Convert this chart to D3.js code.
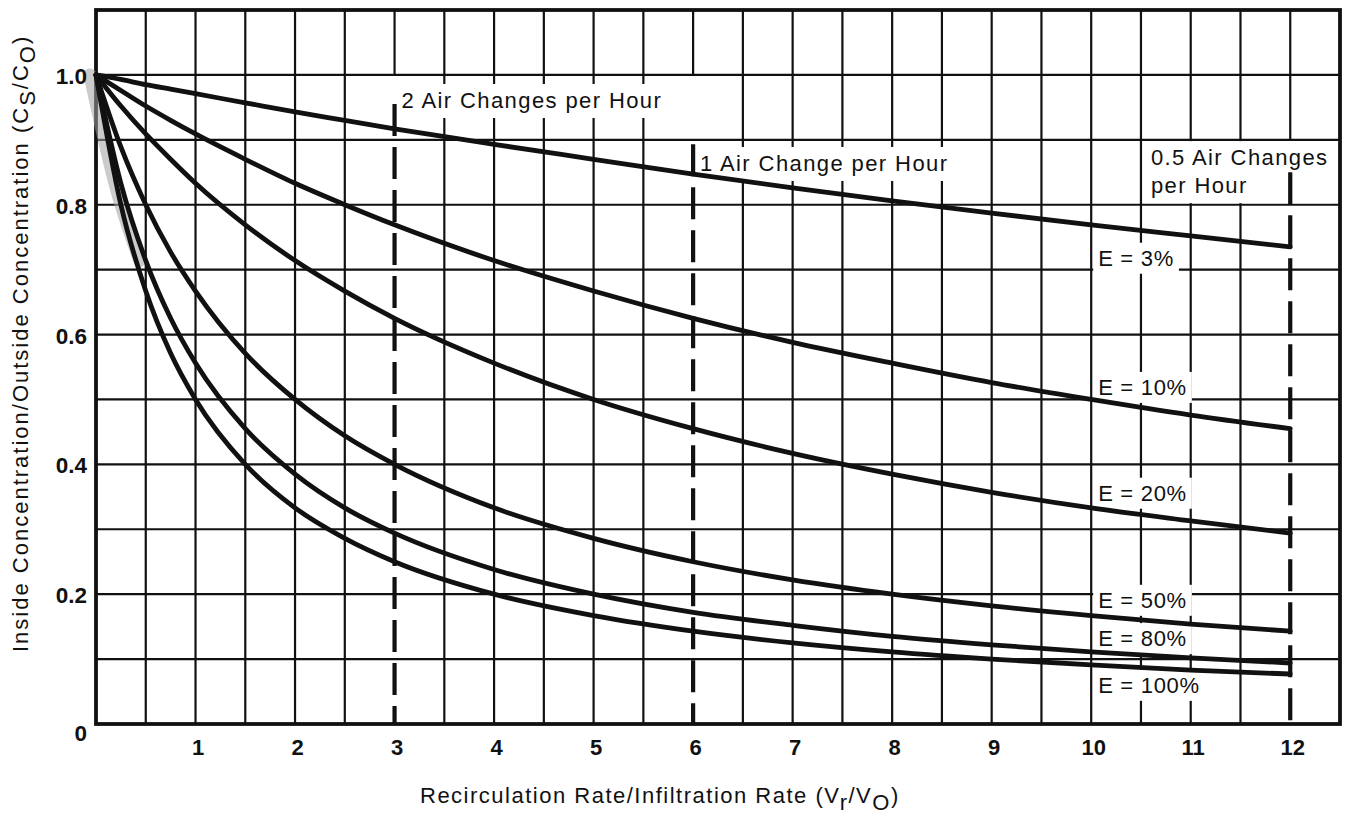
<!DOCTYPE html>
<html>
<head>
<meta charset="utf-8">
<script src="https://cdn.jsdelivr.net/npm/d3@7"></script>
<style>
  body { margin: 0; background: #fff; }
  svg text { font-family: "Liberation Sans", Arial, Helvetica, sans-serif; fill: #111; }
</style>
</head>
<body>
<svg id="chart" width="1348" height="821"></svg>
<script>
// values (Cs/Co against Vr/Vo)
const xs   = [0, 0.25, 0.5, 0.75, 1, 1.5, 2, 2.5, 3, 4, 5, 6, 7, 8, 9, 10, 11, 12];
const e3   = [1, 0.993, 0.985, 0.978, 0.971, 0.957, 0.943, 0.93, 0.917, 0.893, 0.87, 0.847, 0.826, 0.806, 0.787, 0.769, 0.752, 0.735];
const e10  = [1, 0.976, 0.952, 0.93, 0.909, 0.87, 0.833, 0.8, 0.769, 0.714, 0.667, 0.625, 0.588, 0.556, 0.526, 0.5, 0.476, 0.455];
const e20  = [1, 0.952, 0.909, 0.87, 0.833, 0.769, 0.714, 0.667, 0.625, 0.556, 0.5, 0.455, 0.417, 0.385, 0.357, 0.333, 0.313, 0.294];
const e50  = [1, 0.889, 0.8, 0.727, 0.667, 0.571, 0.5, 0.444, 0.4, 0.333, 0.286, 0.25, 0.222, 0.2, 0.182, 0.167, 0.154, 0.143];
const e80  = [1, 0.833, 0.714, 0.625, 0.556, 0.455, 0.385, 0.333, 0.294, 0.238, 0.2, 0.172, 0.152, 0.135, 0.122, 0.111, 0.102, 0.094];
const e100 = [1, 0.8, 0.667, 0.571, 0.5, 0.4, 0.333, 0.286, 0.25, 0.2, 0.167, 0.143, 0.125, 0.111, 0.1, 0.091, 0.083, 0.077];

const seriesNames = ["E = 3%", "E = 10%", "E = 20%", "E = 50%", "E = 80%", "E = 100%"];
const seriesValues = [e3, e10, e20, e50, e80, e100];

const xTicks = [1, 2, 3, 4, 5, 6, 7, 8, 9, 10, 11, 12];
const yTicks = [0, 0.2, 0.4, 0.6, 0.8, 1.0];
const yTickLabels = ["0", "0.2", "0.4", "0.6", "0.8", "1.0"];

const airChangeX = [3, 6, 12];
const airChangeLabels = [["2 Air Changes per Hour"], ["1 Air Change per Hour"], ["0.5 Air Changes", "per Hour"]];

// layout
const xMax = 12.5, yMax = 1.1;
const x = d3.scaleLinear().domain([0, xMax]).range([96, 1340]);
const y = d3.scaleLinear().domain([0, yMax]).range([724, 10]);

const ink = "#111";
const svg = d3.select("#chart");

const gridG  = svg.append("g");
const boxG   = svg.append("g");
const smudgeG = svg.append("g");
const curveG = svg.append("g");
const dashG  = svg.append("g");
const textG  = svg.append("g");

// where the solid grid line stops above each dashed line, and where the dash starts
const solidStop = [1.0, 1.0, 0.9];
const dashTop   = [0.955, 0.893, 0.85];

// vertical grid every 0.5
d3.range(0.5, xMax, 0.5).forEach(v => {
  const i = airChangeX.indexOf(v);
  gridG.append("line")
    .attr("x1", x(v)).attr("x2", x(v))
    .attr("y1", y(yMax)).attr("y2", i < 0 ? y(0) : y(solidStop[i]))
    .attr("stroke", ink).attr("stroke-width", 2.2);
});
// horizontal grid every 0.1
d3.range(1, 11).map(d => d / 10).forEach(v => {
  gridG.append("line")
    .attr("x1", x(0)).attr("x2", x(xMax))
    .attr("y1", y(v)).attr("y2", y(v))
    .attr("stroke", ink).attr("stroke-width", 2.2);
});
// frame
gridG.append("rect")
  .attr("x", x(0)).attr("y", y(yMax))
  .attr("width", x(xMax) - x(0)).attr("height", y(0) - y(yMax))
  .attr("fill", "none").attr("stroke", ink).attr("stroke-width", 3.8);

// curves
const line = d3.line()
  .x((d, i) => x(xs[i]))
  .y(d => y(d))
  .curve(d3.curveMonotoneX);

// grey print smear where the curves bunch up at the origin
smudgeG.append("path")
  .attr("d", line(e80.slice(0, 3)))
  .attr("fill", "none")
  .attr("stroke", "#a0a0a0")
  .attr("stroke-width", 13)
  .attr("stroke-linecap", "round")
  .attr("opacity", 0.55)
  .attr("transform", "translate(-6,0)");

curveG.selectAll("path")
  .data(seriesValues)
  .enter().append("path")
  .attr("d", d => line(d))
  .attr("fill", "none")
  .attr("stroke", ink)
  .attr("stroke-width", 4.8)
  .attr("stroke-linejoin", "round")
  .attr("stroke-linecap", "round");

// dashed air-change lines
airChangeX.forEach((v, i) => {
  dashG.append("line")
    .attr("x1", x(v)).attr("x2", x(v))
    .attr("y1", y(dashTop[i])).attr("y2", y(0))
    .attr("stroke", ink).attr("stroke-width", 4.2)
    .attr("stroke-dasharray", "32,11");
});

// axes (labels only; the grid is the ruling)
const xAxis = d3.axisBottom(x).tickValues(xTicks).tickSize(0).tickPadding(0).tickFormat(d3.format("d"));
svg.append("g")
  .attr("transform", `translate(2, ${y(0) + 31})`)
  .call(xAxis)
  .call(g => g.select(".domain").remove())
  .selectAll("text")
  .attr("dy", 0)
  .style("font-size", "22px").style("font-weight", "bold")
  .style("font-family", '"Liberation Sans", Arial, sans-serif').attr("fill", ink);

const yAxis = d3.axisLeft(y).tickValues(yTicks).tickSize(0).tickPadding(0)
  .tickFormat((d, i) => yTickLabels[i]);
svg.append("g")
  .attr("transform", `translate(87, 0)`)
  .call(yAxis)
  .call(g => g.select(".domain").remove())
  .selectAll("text")
  .attr("dy", (d) => d === 0 ? "0.72em" : "0.38em")
  .style("font-size", "22.5px").style("font-weight", "bold")
  .style("font-family", '"Liberation Sans", Arial, sans-serif').attr("fill", ink);

// white boxes behind text labels
function boxBehind(node, padX, padTop, padBot, minX) {
  const b = node.getBBox();
  const left = minX !== undefined ? minX : b.x - padX;
  boxG.append("rect")
    .attr("x", left).attr("y", b.y - padTop)
    .attr("width", b.x + b.width + padX - left).attr("height", b.height + padTop + padBot)
    .attr("fill", "#fff");
}

// air change labels
const airLabelPos = [[3.07, 0.949], [6.07, 0.852], [10.6, 0.861]];
airChangeLabels.forEach((lines, i) => {
  const t = textG.append("text")
    .attr("x", x(airLabelPos[i][0])).attr("y", y(airLabelPos[i][1]))
    .style("font-size", "22px").style("letter-spacing", "1.4px");
  lines.forEach((s, j) => {
    t.append("tspan").attr("x", x(airLabelPos[i][0])).attr("dy", j === 0 ? 0 : 28).text(s);
  });
  boxBehind(t.node(), 5, 4, 5, i === 0 ? x(3) + 3 : undefined);
});

// E labels
const eLabelY = [0.706, 0.507, 0.344, 0.179, 0.12, 0.048];
seriesNames.forEach((s, i) => {
  const t = textG.append("text")
    .attr("x", x(10.07)).attr("y", y(eLabelY[i]))
    .style("font-size", "22px").style("letter-spacing", "0.7px")
    .text(s);
  boxBehind(t.node(), 5, 3, 3, x(10) + 2);
});

// axis titles
const xt = svg.append("text")
  .attr("x", 420).attr("y", 803)
  .style("font-size", "22px").style("letter-spacing", "1.5px");
xt.append("tspan").text("Recirculation Rate/Infiltration Rate  (V");
xt.append("tspan").attr("dy", 7).text("r");
xt.append("tspan").attr("dy", -7).text("/V");
xt.append("tspan").attr("dy", 7).text("O");
xt.append("tspan").attr("dy", -7).text(")");

const yt = svg.append("text")
  .attr("transform", "translate(28, 652) rotate(-90)")
  .style("font-size", "22px").style("letter-spacing", "2px");
yt.append("tspan").text("Inside Concentration/Outside Concentration  (C");
yt.append("tspan").attr("dy", 7).text("S");
yt.append("tspan").attr("dy", -7).text("/C");
yt.append("tspan").attr("dy", 7).text("O");
yt.append("tspan").attr("dy", -7).text(")");
</script>
</body>
</html>
